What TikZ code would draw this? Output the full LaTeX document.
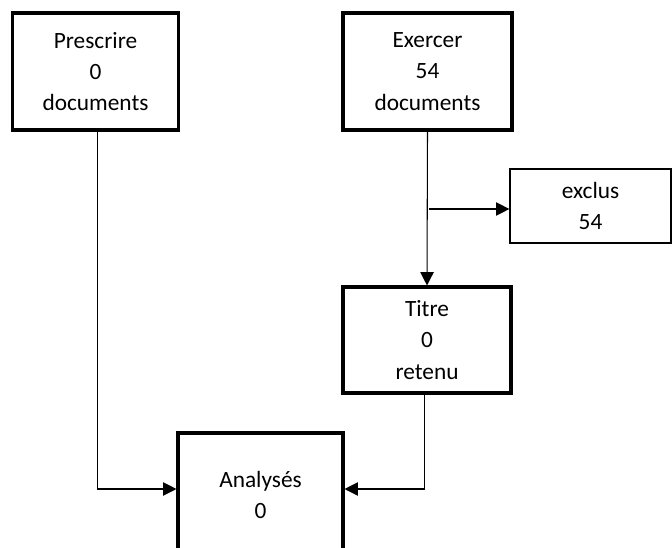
\documentclass[tikz,border=0pt]{standalone}
\usepackage{fontspec}
\setmainfont{Carlito}
\usetikzlibrary{arrows.meta}
\begin{document}
\begin{tikzpicture}[x=0.75pt,y=-0.75pt,
  boxthick/.style={draw,line width=2.3pt,inner sep=0pt,align=center,
    font=\fontsize{17.5}{23.5}\selectfont},
  boxthin/.style={draw,line width=0.9pt,inner sep=0pt,align=center,
    font=\fontsize{17.5}{23.5}\selectfont},
  arr/.style={line width=0.8pt,-{Triangle[length=10pt,width=10pt]}},
  ln/.style={line width=0.8pt}]
\useasboundingbox (0,0) rectangle (672,547);
\clip (0,0) rectangle (672,547);
\node[boxthick,minimum width=124pt,minimum height=87.75pt] (prescrire) at (95.5,71.5) {Prescrire\\0\\documents};
\node[boxthick,minimum width=126.75pt,minimum height=87.75pt] (exercer) at (427.5,71.5) {Exercer\\54\\documents};
\node[boxthin,minimum width=120.75pt,minimum height=55.5pt] (exclus) at (590.5,206) {exclus\\54};
\node[boxthick,minimum width=126pt,minimum height=79.5pt] (titre) at (427,340) {Titre\\0\\retenu};
\node[boxthick,minimum width=123.75pt,minimum height=93pt] (analyses) at (260.5,495) {Analysés\\0};
\coordinate (br) at (429,209);
\draw[arr] (exercer.south) -- (titre.north);
\draw[arr] (br) -- (br -| exclus.west);
\draw[arr] ([xshift=1.5pt]prescrire.south) |- ([yshift=4.5pt]analyses.west);
\draw[arr] ([xshift=-2pt]titre.south) |- ([yshift=4.5pt]analyses.east);
\end{tikzpicture}
\end{document}
